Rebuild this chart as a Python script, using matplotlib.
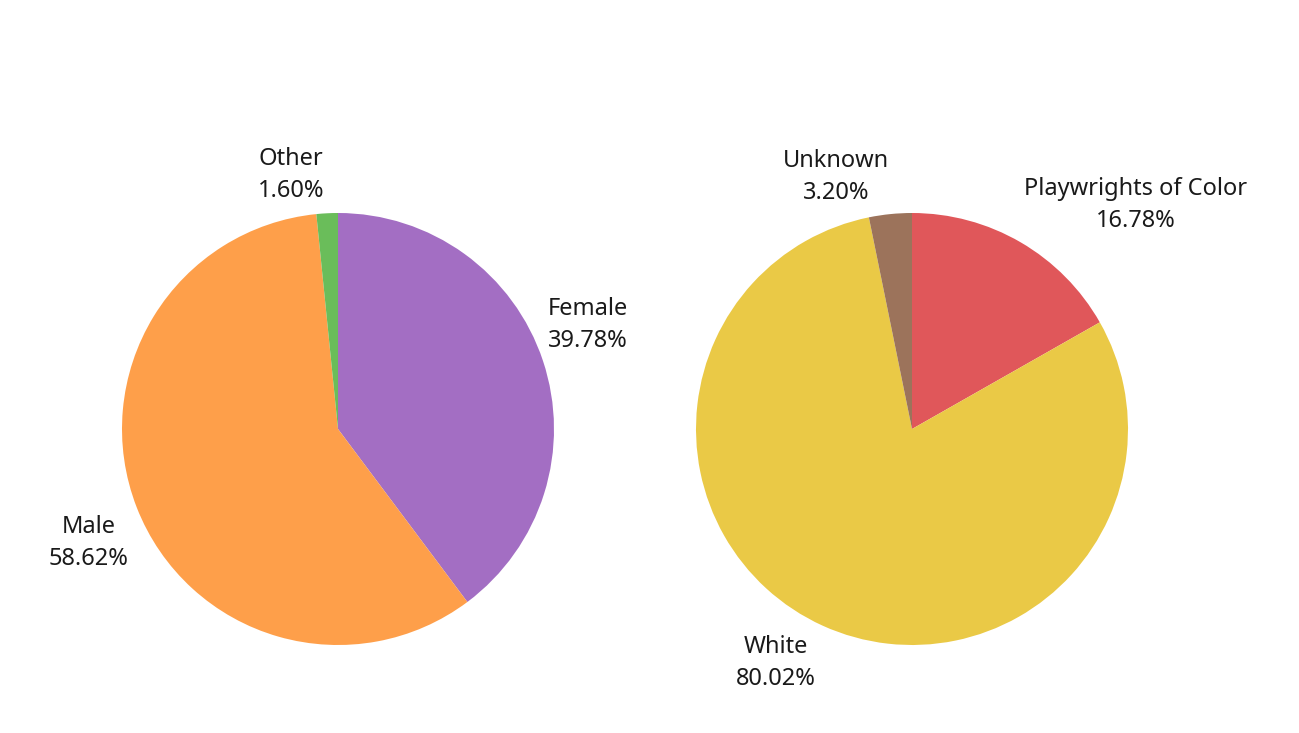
import matplotlib
matplotlib.use("Agg")
import matplotlib.pyplot as plt

gender_labels = ["Female", "Male", "Other"]
gender_values = [39.78, 58.62, 1.60]
gender_colors = ["#A36EC3", "#FE9F4A", "#6ABD5A"]

race_labels = ["Playwrights of Color", "White", "Unknown"]
race_values = [16.78, 80.02, 3.20]
race_colors = ["#E0575A", "#EAC946", "#9C735B"]

W, H = 1299, 733
fig = plt.figure(figsize=(W / 100, H / 100), dpi=100)
fig.patch.set_facecolor("white")

FONT = ["Noto Sans", "DejaVu Sans"]

def pie_axes(cx, cy, r):
    return fig.add_axes([(cx - r) / W, (H - cy - r) / H, 2 * r / W, 2 * r / H])

def draw(ax, values, colors):
    ax.pie(values, colors=colors, startangle=90, counterclock=False, radius=1,
           wedgeprops=dict(linewidth=0))
    ax.set_xlim(-1, 1)
    ax.set_ylim(-1, 1)
    ax.set_aspect("equal")
    ax.axis("off")

ax1 = pie_axes(338, 429, 216)
draw(ax1, gender_values, gender_colors)
ax2 = pie_axes(912, 429, 216)
draw(ax2, race_values, race_colors)

def label(x, y, name, val):
    fig.text(x / W, 1 - y / H, f"{name}\n{val:.2f}%", ha="center", va="center",
             fontsize=17, family=FONT, color="#1a1a1a", linespacing=1.42)

label(291, 175, gender_labels[2], gender_values[2])
label(588, 325, gender_labels[0], gender_values[0])
label(89, 543, gender_labels[1], gender_values[1])
label(836, 177, race_labels[2], race_values[2])
label(1136, 205, race_labels[0], race_values[0])
label(776, 663, race_labels[1], race_values[1])

fig.savefig("out.png", dpi=100, facecolor="white")
